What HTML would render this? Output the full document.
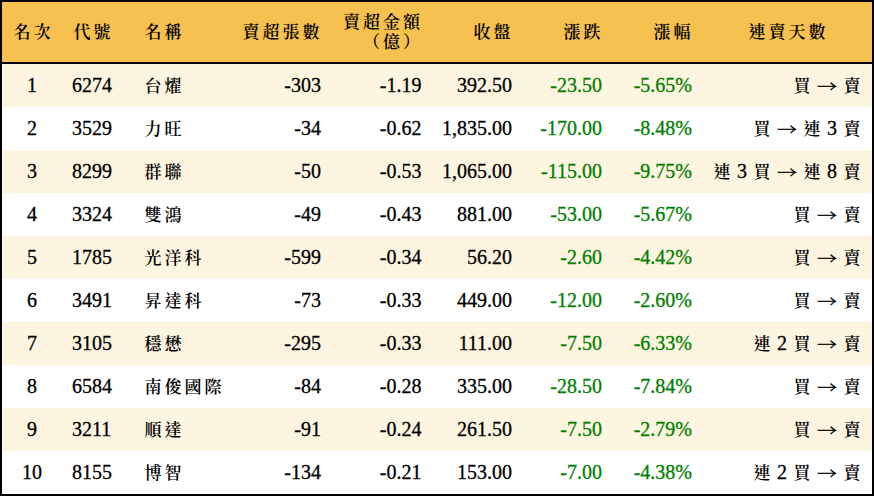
<!DOCTYPE html>
<html lang="zh-Hant">
<head>
<meta charset="utf-8">
<title>賣超排行</title>
<style>
html,body{margin:0;padding:0;background:#fff;}
body{width:874px;height:496px;overflow:hidden;}
.wrap{box-sizing:border-box;width:874px;height:496px;border:2px solid #000;background:#fff;}
table{border-collapse:separate;border-spacing:0;table-layout:fixed;width:870px;
  font-family:"Liberation Serif","Noto Serif CJK TC","Noto Serif CJK SC",serif;
  font-size:20px;color:#000;text-spacing-trim:space-all;-webkit-text-stroke:0.3px currentColor;}
th,td{padding:0;white-space:nowrap;overflow:visible;}
thead tr{height:62px;background:#F7C14F;}
thead th{font-weight:normal;border-bottom:2px solid #000;line-height:20px;vertical-align:middle;padding-bottom:2px;}
tbody tr{height:43px;}
tbody tr:nth-child(odd){background:#FEF5E1;}
tbody tr:nth-child(even){background:#fff;}
td{line-height:20px;vertical-align:middle;padding-bottom:2px;}
.c1{text-align:center;}
.c2{text-align:left;padding-left:10px;}
.c3{text-align:left;padding-left:11px;}
.r{text-align:right;}
.g{color:#008000;}
.c9{text-align:right;padding-right:10px;}
th.c9{padding-right:45px;}
.k{font-family:"Noto Serif CJK TC","Noto Serif CJK SC",serif;font-size:17px;letter-spacing:3px;font-weight:600;position:relative;left:1.5px;-webkit-text-stroke:0;}
.ar{font-family:"Noto Serif CJK TC","Noto Serif CJK SC",serif;display:inline-block;font-weight:600;transform:translateY(2.2px) scaleY(0.72);-webkit-text-stroke:0.5px currentColor;}
</style>
</head>
<body>
<div class="wrap">
<table>
<colgroup><col style="width:60px"><col style="width:70px"><col style="width:100px"><col style="width:89px"><col style="width:100.5px"><col style="width:90.5px"><col style="width:90px"><col style="width:90px"><col style="width:180px"></colgroup>
<thead>
<tr><th class="c1"><span class="k">名次</span></th><th class="c2"><span class="k">代號</span></th><th class="c3"><span class="k">名稱</span></th><th class="r c4"><span class="k">賣超張數</span></th><th class="r c5"><span class="k">賣超金額</span><br><span class="k">（億）</span></th><th class="r c6"><span class="k">收盤</span></th><th class="r c7"><span class="k">漲跌</span></th><th class="r c8"><span class="k">漲幅</span></th><th class="c9"><span class="k">連賣天數</span></th></tr>
</thead>
<tbody>
<tr><td class="c1">1</td><td class="c2">6274</td><td class="c3"><span class="k">台燿</span></td><td class="r c4">-303</td><td class="r c5">-1.19</td><td class="r c6">392.50</td><td class="r g c7">-23.50</td><td class="r g c8">-5.65%</td><td class="c9"><span class="k">買</span> <span class="ar">→</span> <span class="k">賣</span></td></tr>
<tr><td class="c1">2</td><td class="c2">3529</td><td class="c3"><span class="k">力旺</span></td><td class="r c4">-34</td><td class="r c5">-0.62</td><td class="r c6">1,835.00</td><td class="r g c7">-170.00</td><td class="r g c8">-8.48%</td><td class="c9"><span class="k">買</span> <span class="ar">→</span> <span class="k">連</span> 3 <span class="k">賣</span></td></tr>
<tr><td class="c1">3</td><td class="c2">8299</td><td class="c3"><span class="k">群聯</span></td><td class="r c4">-50</td><td class="r c5">-0.53</td><td class="r c6">1,065.00</td><td class="r g c7">-115.00</td><td class="r g c8">-9.75%</td><td class="c9"><span class="k">連</span> 3 <span class="k">買</span> <span class="ar">→</span> <span class="k">連</span> 8 <span class="k">賣</span></td></tr>
<tr><td class="c1">4</td><td class="c2">3324</td><td class="c3"><span class="k">雙鴻</span></td><td class="r c4">-49</td><td class="r c5">-0.43</td><td class="r c6">881.00</td><td class="r g c7">-53.00</td><td class="r g c8">-5.67%</td><td class="c9"><span class="k">買</span> <span class="ar">→</span> <span class="k">賣</span></td></tr>
<tr><td class="c1">5</td><td class="c2">1785</td><td class="c3"><span class="k">光洋科</span></td><td class="r c4">-599</td><td class="r c5">-0.34</td><td class="r c6">56.20</td><td class="r g c7">-2.60</td><td class="r g c8">-4.42%</td><td class="c9"><span class="k">買</span> <span class="ar">→</span> <span class="k">賣</span></td></tr>
<tr><td class="c1">6</td><td class="c2">3491</td><td class="c3"><span class="k">昇達科</span></td><td class="r c4">-73</td><td class="r c5">-0.33</td><td class="r c6">449.00</td><td class="r g c7">-12.00</td><td class="r g c8">-2.60%</td><td class="c9"><span class="k">買</span> <span class="ar">→</span> <span class="k">賣</span></td></tr>
<tr><td class="c1">7</td><td class="c2">3105</td><td class="c3"><span class="k">穩懋</span></td><td class="r c4">-295</td><td class="r c5">-0.33</td><td class="r c6">111.00</td><td class="r g c7">-7.50</td><td class="r g c8">-6.33%</td><td class="c9"><span class="k">連</span> 2 <span class="k">買</span> <span class="ar">→</span> <span class="k">賣</span></td></tr>
<tr><td class="c1">8</td><td class="c2">6584</td><td class="c3"><span class="k">南俊國際</span></td><td class="r c4">-84</td><td class="r c5">-0.28</td><td class="r c6">335.00</td><td class="r g c7">-28.50</td><td class="r g c8">-7.84%</td><td class="c9"><span class="k">買</span> <span class="ar">→</span> <span class="k">賣</span></td></tr>
<tr><td class="c1">9</td><td class="c2">3211</td><td class="c3"><span class="k">順達</span></td><td class="r c4">-91</td><td class="r c5">-0.24</td><td class="r c6">261.50</td><td class="r g c7">-7.50</td><td class="r g c8">-2.79%</td><td class="c9"><span class="k">買</span> <span class="ar">→</span> <span class="k">賣</span></td></tr>
<tr><td class="c1">10</td><td class="c2">8155</td><td class="c3"><span class="k">博智</span></td><td class="r c4">-134</td><td class="r c5">-0.21</td><td class="r c6">153.00</td><td class="r g c7">-7.00</td><td class="r g c8">-4.38%</td><td class="c9"><span class="k">連</span> 2 <span class="k">買</span> <span class="ar">→</span> <span class="k">賣</span></td></tr>
</tbody>
</table>
</div>
</body>
</html>
